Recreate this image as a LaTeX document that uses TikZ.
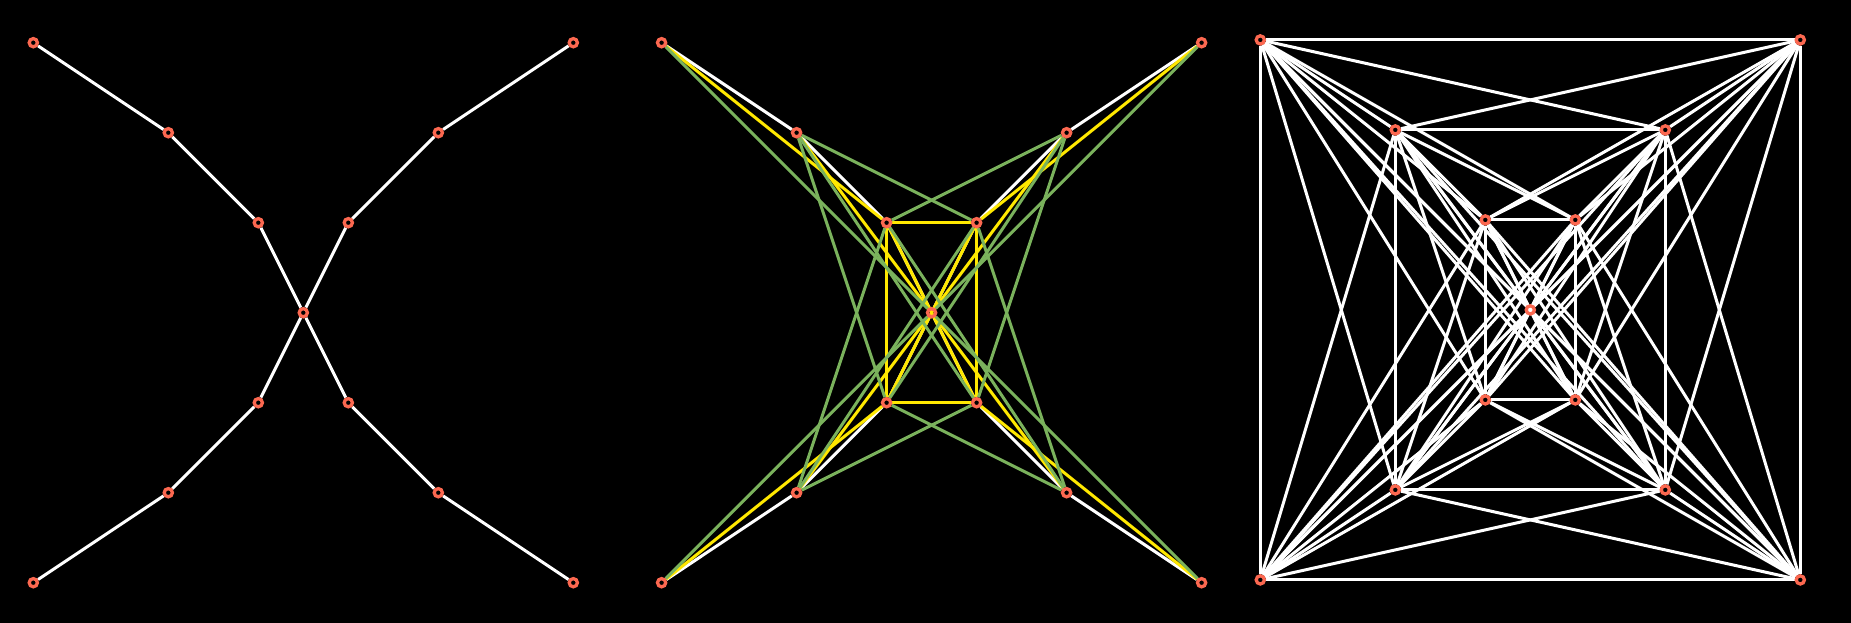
\documentclass[tikz,border=0pt]{standalone}
\usepackage{xcolor}
\usepackage{tikz}
\usetikzlibrary{calc}
\definecolor{ringred}{RGB}{252,104,80}
\definecolor{sqyellow}{RGB}{255,232,0}
\definecolor{cubegreen}{RGB}{122,178,92}
\pgfdeclarelayer{edgelayer}
\pgfsetlayers{edgelayer,main}
\tikzset{
  %% Vertices
  vtx/.style={
    circle, draw=ringred, line width=3.3pt,
    minimum size=8.2pt, inner sep=0pt},
  %% Edges by tree distance
  treeedge/.style={white, line width=3pt},
  sqedge/.style={sqyellow, line width=3pt},
  cubeedge/.style={cubegreen, line width=3pt},
  fulledge/.style={white, line width=3pt},
}
\def\vlist{c,i1,i2,i3,i4,m1,m2,m3,m4,o1,o2,o3,o4}

\begin{document}
\begin{tikzpicture}[x=1pt, y=-1pt]

  \useasboundingbox (0,0) rectangle (1851,623);

  %% Vertices: tree (t), cube (k), complete (f)
  \foreach \p/\cx/\cy in {t/303.3/312.7, k/931.6/312.7, f/1530.3/309.9} {
    \node[vtx] (\p c) at (\cx,\cy) {};
    \foreach \q/\sx/\sy in {1/-1/-1, 2/1/-1, 3/1/1, 4/-1/1} {
      \node[vtx] (\p i\q) at (\cx+\sx*45, \cy+\sy*90) {};
      \node[vtx] (\p m\q) at (\cx+\sx*135, \cy+\sy*180) {};
      \node[vtx] (\p o\q) at (\cx+\sx*270, \cy+\sy*270) {};
    }
  }

  \begin{pgfonlayer}{edgelayer}
    \fill[black] (0,0) rectangle (1851,623);

    %% Tree
    \foreach \p in {t,k}
      \foreach \q in {1,2,3,4} {
        \draw[treeedge] (\p c) -- (\p i\q);
        \draw[treeedge] (\p i\q) -- (\p m\q);
        \draw[treeedge] (\p m\q) -- (\p o\q);
      }

    %% Distance two
    \foreach \q in {1,2,3,4} {
      \draw[sqedge] (kc) -- (km\q);
      \draw[sqedge] (ki\q) -- (ko\q);
    }
    \foreach \a/\b in {1/2, 2/3, 3/4, 4/1, 1/3, 2/4}
      \draw[sqedge] (ki\a) -- (ki\b);

    %% Distance three
    \foreach \q in {1,2,3,4} {
      \draw[cubeedge] (kc) -- (ko\q);
      \foreach \r in {1,2,3,4} {
        \ifnum\q=\r\else \draw[cubeedge] (ki\q) -- (km\r); \fi
      }
    }

    %% All pairs
    \foreach \a [count=\na] in \vlist {
      \foreach \b [count=\nb] in \vlist {
        \ifnum\nb>\na \draw[fulledge] (f\a) -- (f\b); \fi
      }
    }
  \end{pgfonlayer}

\end{tikzpicture}
\end{document}
